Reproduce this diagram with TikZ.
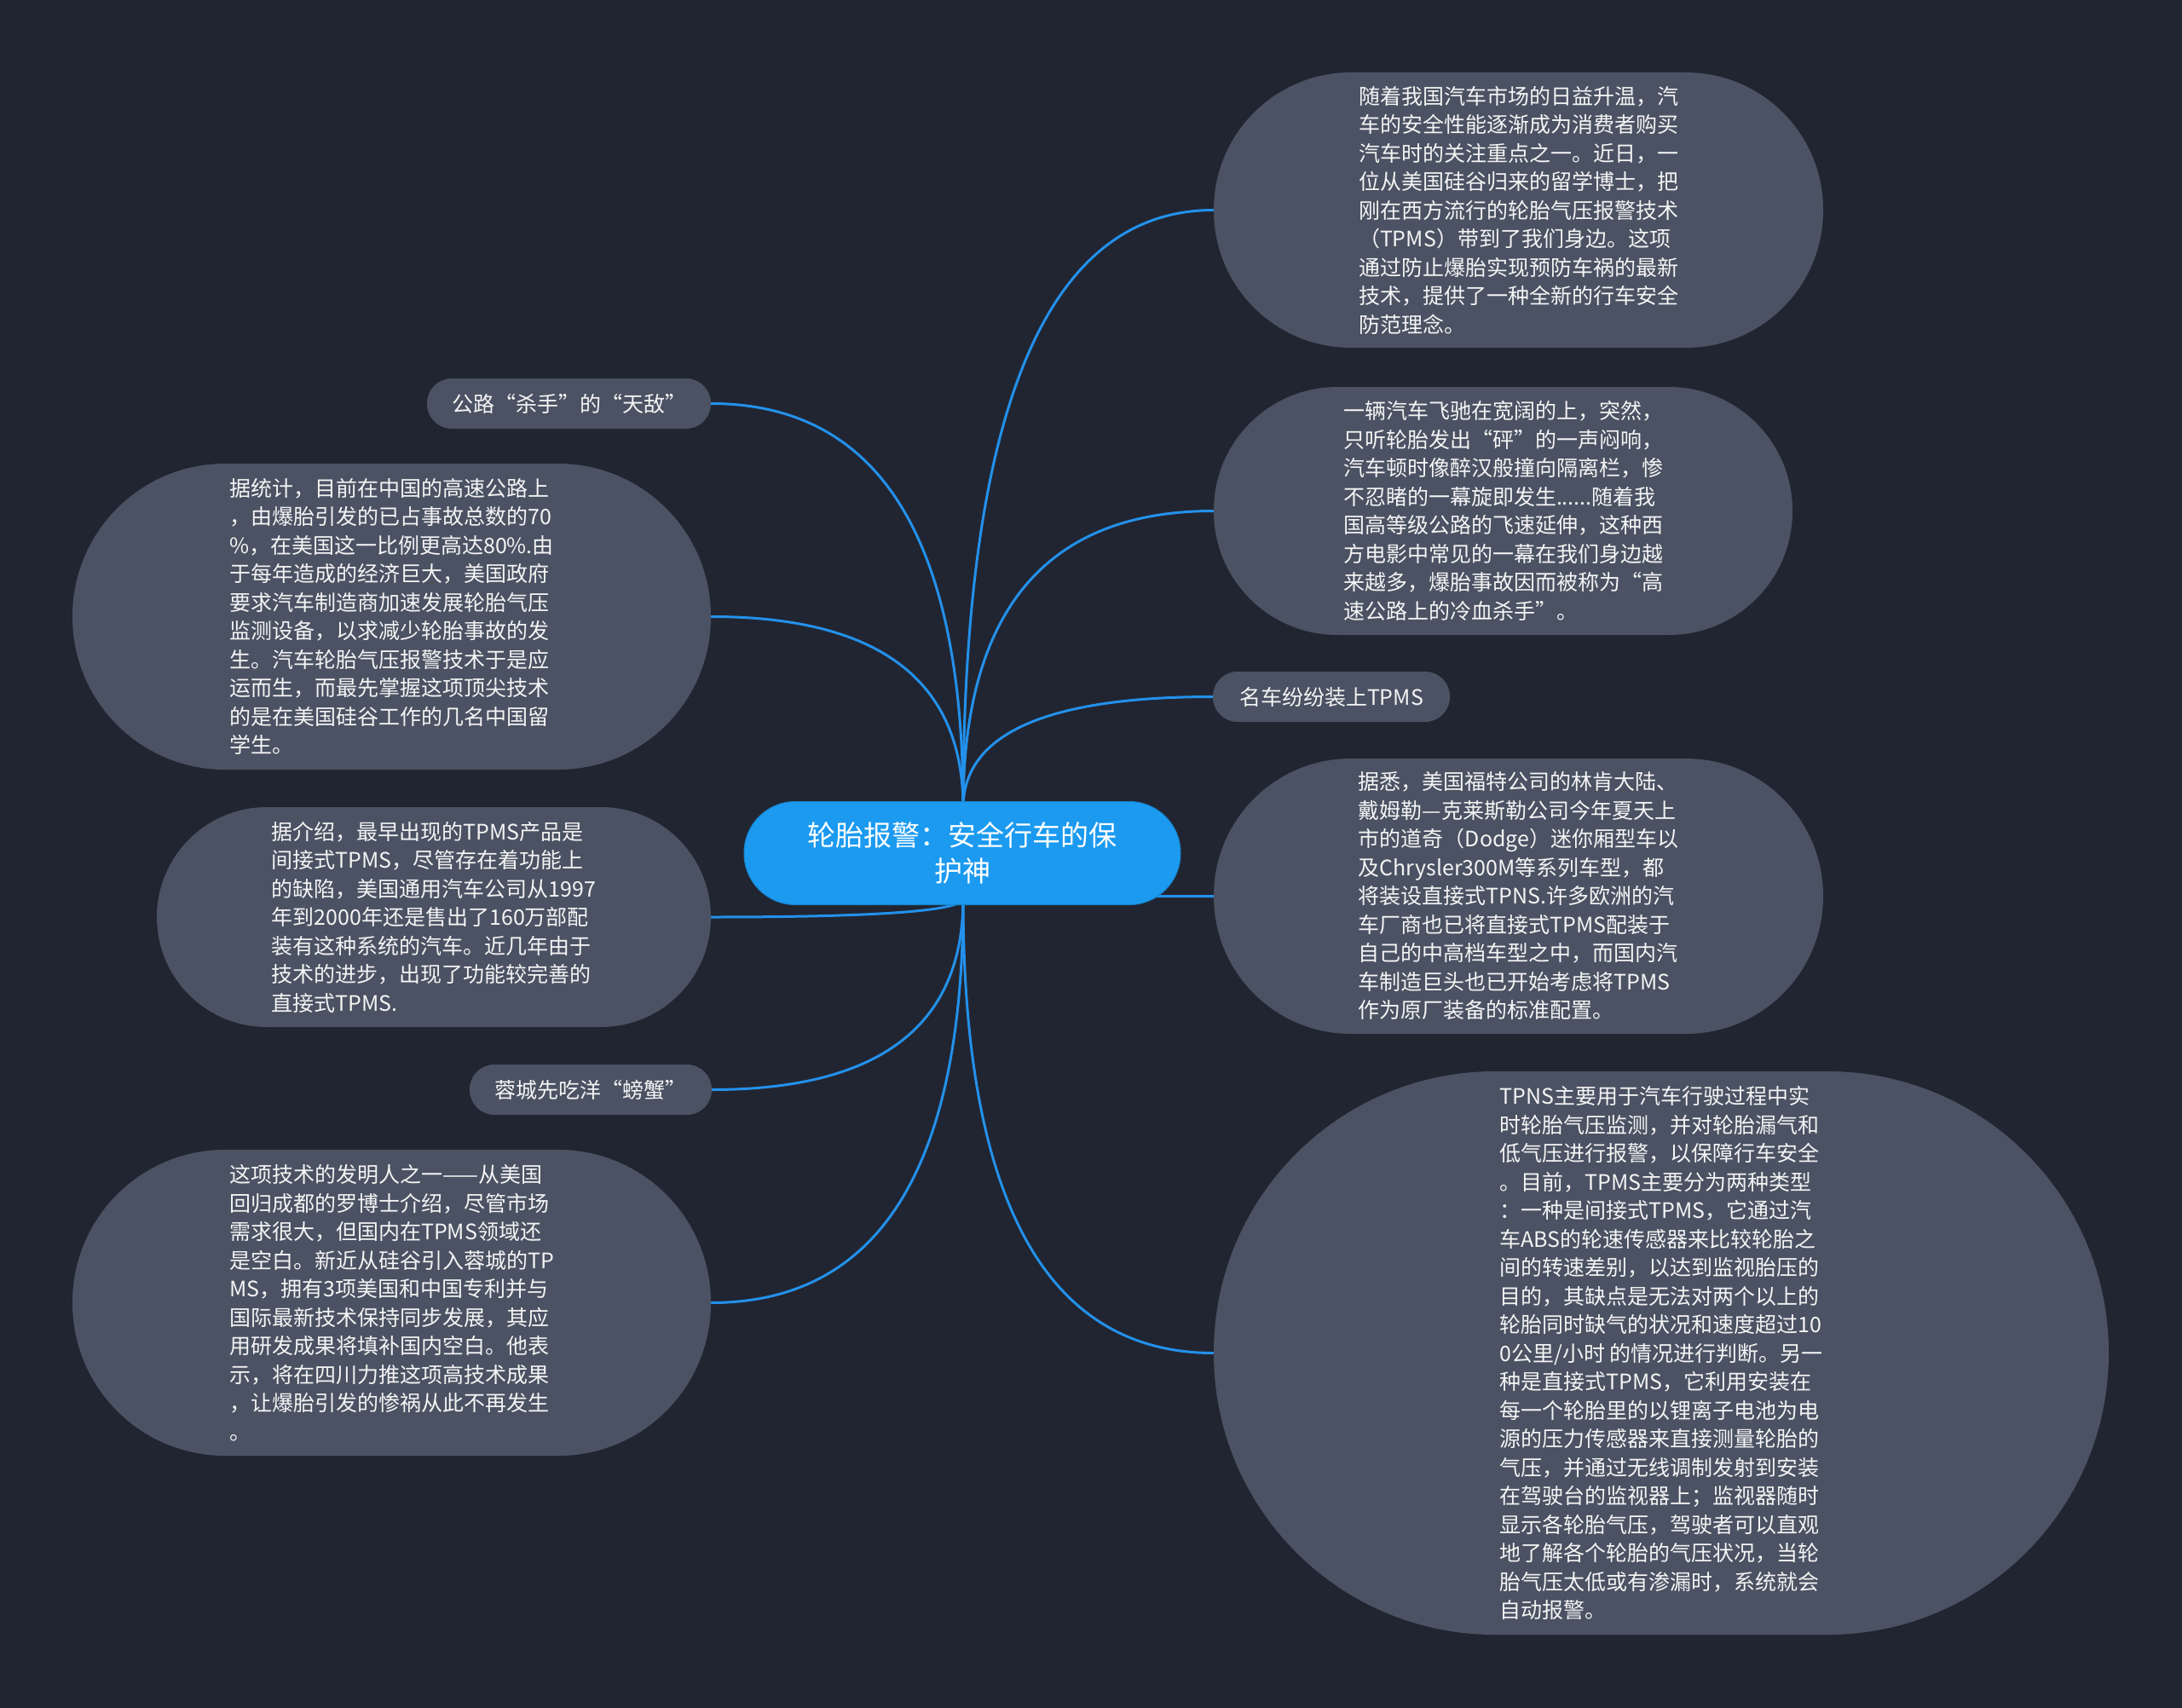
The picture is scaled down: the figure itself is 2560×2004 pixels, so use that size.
\documentclass[tikz,border=0pt]{standalone}
\usepackage{fontspec}
\setmainfont{Noto Sans CJK SC}
\usetikzlibrary{calc}
\definecolor{bgc}{HTML}{212531}
\definecolor{nodec}{HTML}{4A5263}
\definecolor{mainc}{HTML}{1B9AF0}
\definecolor{linkc}{HTML}{2391EB}
\definecolor{txtc}{HTML}{F4F4F4}
\pgfdeclarelayer{bg}
\pgfsetlayers{bg,main}
\newcommand{\qlink}[2]{%
  \draw[link] (#1) .. controls ($(#1)!0.6667!(#1 |- #2)$) and ($(#2)!0.6667!(#1 |- #2)$) .. (#2);}
\begin{document}
\begin{tikzpicture}[x=1pt,y=-1pt,
  bubble/.style={fill=nodec, text=txtc, align=left, inner sep=0pt,
    font={\fontsize{25}{33.5}\selectfont}},
  mainbox/.style={fill=mainc, draw=mainc!85!black, line width=1pt, text=white, align=center, inner sep=0pt,
    font={\fontsize{33}{42}\selectfont}},
  link/.style={draw=linkc, line width=3pt}]
\begin{pgfonlayer}{bg}
\fill[bgc] (0,0) rectangle (2560,2004);
\end{pgfonlayer}
\useasboundingbox (0,0) rectangle (2560,2004);

\node[mainbox, minimum width=512pt, minimum height=121pt, rounded corners=60pt] (c) at (1129,1001)
 {轮胎报警：安全行车的保\\护神};

\node[bubble, minimum width=715pt, minimum height=323pt, rounded corners=161pt] (n1) at (1781.5,246.5)
 {随着我国汽车市场的日益升温，汽\\
车的安全性能逐渐成为消费者购买\\
汽车时的关注重点之一。近日，一\\
位从美国硅谷归来的留学博士，把\\
刚在西方流行的轮胎气压报警技术\\
（TPMS）带到了我们身边。这项\\
通过防止爆胎实现预防车祸的最新\\
技术，提供了一种全新的行车安全\\
防范理念。};

\node[bubble, minimum width=679pt, minimum height=291pt, rounded corners=145pt] (n2) at (1763.5,599.5)
 {一辆汽车飞驰在宽阔的上，突然，\\
只听轮胎发出“砰”的一声闷响，\\
汽车顿时像醉汉般撞向隔离栏，惨\\
不忍睹的一幕旋即发生......随着我\\
国高等级公路的飞速延伸，这种西\\
方电影中常见的一幕在我们身边越\\
来越多，爆胎事故因而被称为“高\\
速公路上的冷血杀手”。};

\node[bubble, minimum width=278pt, minimum height=59pt, rounded corners=29pt] (n3) at (1562,817.5)
 {名车纷纷装上TPMS};

\node[bubble, minimum width=715pt, minimum height=323pt, rounded corners=161pt] (n4) at (1781.5,1051.5)
 {据悉，美国福特公司的林肯大陆、\\
戴姆勒—克莱斯勒公司今年夏天上\\
市的道奇（Dodge）迷你厢型车以\\
及Chrysler300M等系列车型，都\\
将装设直接式TPNS.许多欧洲的汽\\
车厂商也已将直接式TPMS配装于\\
自己的中高档车型之中，而国内汽\\
车制造巨头也已开始考虑将TPMS\\
作为原厂装备的标准配置。};

\node[bubble, minimum width=1050pt, minimum height=661pt, rounded corners=330pt] (n5) at (1949,1587.5)
 {TPNS主要用于汽车行驶过程中实\\
时轮胎气压监测，并对轮胎漏气和\\
低气压进行报警，以保障行车安全\\
。目前，TPMS主要分为两种类型\\
：一种是间接式TPMS，它通过汽\\
车ABS的轮速传感器来比较轮胎之\\
间的转速差别，以达到监视胎压的\\
目的，其缺点是无法对两个以上的\\
轮胎同时缺气的状况和速度超过10\\
0公里/小时 的情况进行判断。另一\\
种是直接式TPMS，它利用安装在\\
每一个轮胎里的以锂离子电池为电\\
源的压力传感器来直接测量轮胎的\\
气压，并通过无线调制发射到安装\\
在驾驶台的监视器上；监视器随时\\
显示各轮胎气压，驾驶者可以直观\\
地了解各个轮胎的气压状况，当轮\\
胎气压太低或有渗漏时，系统就会\\
自动报警。};

\node[bubble, minimum width=333pt, minimum height=59pt, rounded corners=29pt] (l1) at (667.5,473.5)
 {公路“杀手”的“天敌”};

\node[bubble, minimum width=749pt, minimum height=359pt, rounded corners=179pt] (l2) at (459.5,723.5)
 {据统计，目前在中国的高速公路上\\
，由爆胎引发的已占事故总数的70\\
\%，在美国这一比例更高达80\%.由\\
于每年造成的经济巨大，美国政府\\
要求汽车制造商加速发展轮胎气压\\
监测设备，以求减少轮胎事故的发\\
生。汽车轮胎气压报警技术于是应\\
运而生，而最先掌握这项顶尖技术\\
的是在美国硅谷工作的几名中国留\\
学生。};

\node[bubble, minimum width=650pt, minimum height=258pt, rounded corners=129pt] (l3) at (509,1076)
 {据介绍，最早出现的TPMS产品是\\
间接式TPMS，尽管存在着功能上\\
的缺陷，美国通用汽车公司从1997\\
年到2000年还是售出了160万部配\\
装有这种系统的汽车。近几年由于\\
技术的进步，出现了功能较完善的\\
直接式TPMS.};

\node[bubble, minimum width=284pt, minimum height=59pt, rounded corners=29pt] (l4) at (693,1278.5)
 {蓉城先吃洋“螃蟹”};

\node[bubble, minimum width=749pt, minimum height=359pt, rounded corners=179pt] (l5) at (459.5,1528.5)
 {这项技术的发明人之一——从美国\\
回归成都的罗博士介绍，尽管市场\\
需求很大，但国内在TPMS领域还\\
是空白。新近从硅谷引入蓉城的TP\\
MS，拥有3项美国和中国专利并与\\
国际最新技术保持同步发展，其应\\
用研发成果将填补国内空白。他表\\
示，将在四川力推这项高技术成果\\
，让爆胎引发的惨祸从此不再发生\\
。};

\coordinate (ctop) at (1130,948);
\coordinate (cbot) at (1130,1054);

\begin{pgfonlayer}{bg}
\qlink{ctop}{n1.west}
\qlink{ctop}{n2.west}
\qlink{ctop}{n3.west}
\qlink{ctop}{l1.east}
\qlink{ctop}{l2.east}
\qlink{cbot}{n4.west}
\qlink{cbot}{n5.west}
\qlink{cbot}{l3.east}
\qlink{cbot}{l4.east}
\qlink{cbot}{l5.east}
\end{pgfonlayer}
\end{tikzpicture}
\end{document}
